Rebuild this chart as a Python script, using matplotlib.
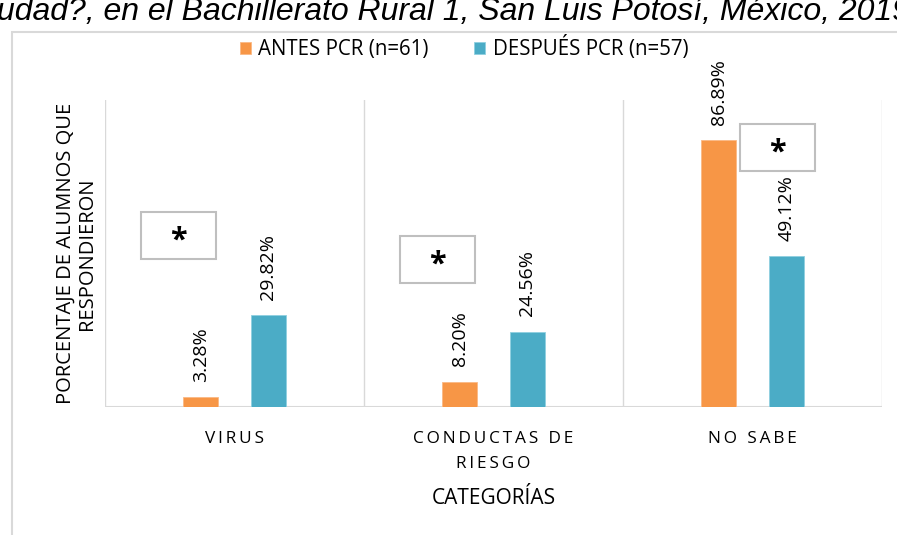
import matplotlib.pyplot as plt
from matplotlib.patches import Rectangle
import numpy as np

# datos
categorias = ['VIRUS', 'CONDUCTAS DE\nRIESGO', 'NO SABE']
antes = [3.28, 8.20, 86.89]
despues = [29.82, 24.56, 49.12]
serie_antes = 'ANTES PCR (n=61)'
serie_despues = 'DESPUÉS PCR (n=57)'

NARANJA = '#F79646'
AZUL = '#4BACC6'
GRIS = '#D9D9D9'

plt.rcParams['font.family'] = ['Open Sans', 'DejaVu Sans']


def espaciar(txt):
    # Excel pone espacio entre letras en las etiquetas del eje
    return '\n'.join('\u2009'.join(linea) for linea in txt.split('\n'))


fig = plt.figure(figsize=(8.97, 5.35), dpi=100)
ax = fig.add_axes([105 / 897, 1 - 407 / 535, 777 / 897, 307 / 535])

x = np.arange(len(categorias))
off = 0.13
w = 0.136
b1 = ax.bar(x - off, antes, w, color=NARANJA, edgecolor='#FAB985', linewidth=0.6, label=serie_antes)
b2 = ax.bar(x + off, despues, w, color=AZUL, edgecolor='#8FD0E0', linewidth=0.6, label=serie_despues)

for barras in (b1, b2):
    for r in barras:
        v = r.get_height()
        ax.text(r.get_x() + r.get_width() / 2, v + 5, f'{v:.2f}%', rotation=90,
                ha='center', va='bottom', fontsize=14, color='#000000', clip_on=False)

# cajas con asterisco (diferencia significativa)
cajas = [(-0.36, 48.2), (0.64, 40.4), (1.95, 76.9)]
for cx, cy in cajas:
    ax.add_patch(Rectangle((cx, cy), 0.29, 15.4, facecolor='white', edgecolor='#BFBFBF',
                           linewidth=1.5, clip_on=False, zorder=3))
    ax.text(cx + 0.145, cy + 6.0, '*', ha='center', va='center', fontsize=22,
            fontweight='bold', zorder=4, clip_on=False)

ax.set_xlim(-0.5, 2.5)
ax.set_ylim(0, 100)
for xv in [-0.5, 0.5, 1.5, 2.5]:
    ax.axvline(xv, color=GRIS, linewidth=1, zorder=0)
ax.axhline(0, color=GRIS, linewidth=1.5, zorder=0)
for s in ax.spines.values():
    s.set_visible(False)
ax.set_yticks([])
ax.set_xticks(x)
ax.set_xticklabels([espaciar(c) for c in categorias], fontsize=12.4, linespacing=1.75)
ax.tick_params(axis='x', length=0, pad=17)
ax.set_xlabel('CATEGORÍAS', fontsize=15, labelpad=12)
ax.set_ylabel('PORCENTAJE DE ALUMNOS QUE\nRESPONDIERON', fontsize=14.5, labelpad=6,
              linespacing=1.05)

ax.legend(loc='center', bbox_to_anchor=(464 / 897, 1 - 48 / 535), bbox_transform=fig.transFigure,
          ncol=2, frameon=False, fontsize=14.8, handlelength=0.55, handleheight=0.55,
          handletextpad=0.35, columnspacing=2.2)

# borde exterior del grafico
fig.patches.append(Rectangle((12 / 897, -0.1), 1.2, 1 - 32 / 535 + 0.1, transform=fig.transFigure,
                             facecolor='none', edgecolor=GRIS, linewidth=1.5))

# titulo cortado arriba
fig.text(-3 / 897, 1 - 20 / 535, 'udad?, en el Bachillerato Rural 1, San Luis Potosí, México, 2019',
         fontsize=23, style='italic', family='Liberation Sans', va='baseline', ha='left')

fig.savefig('out.png', dpi=100)
